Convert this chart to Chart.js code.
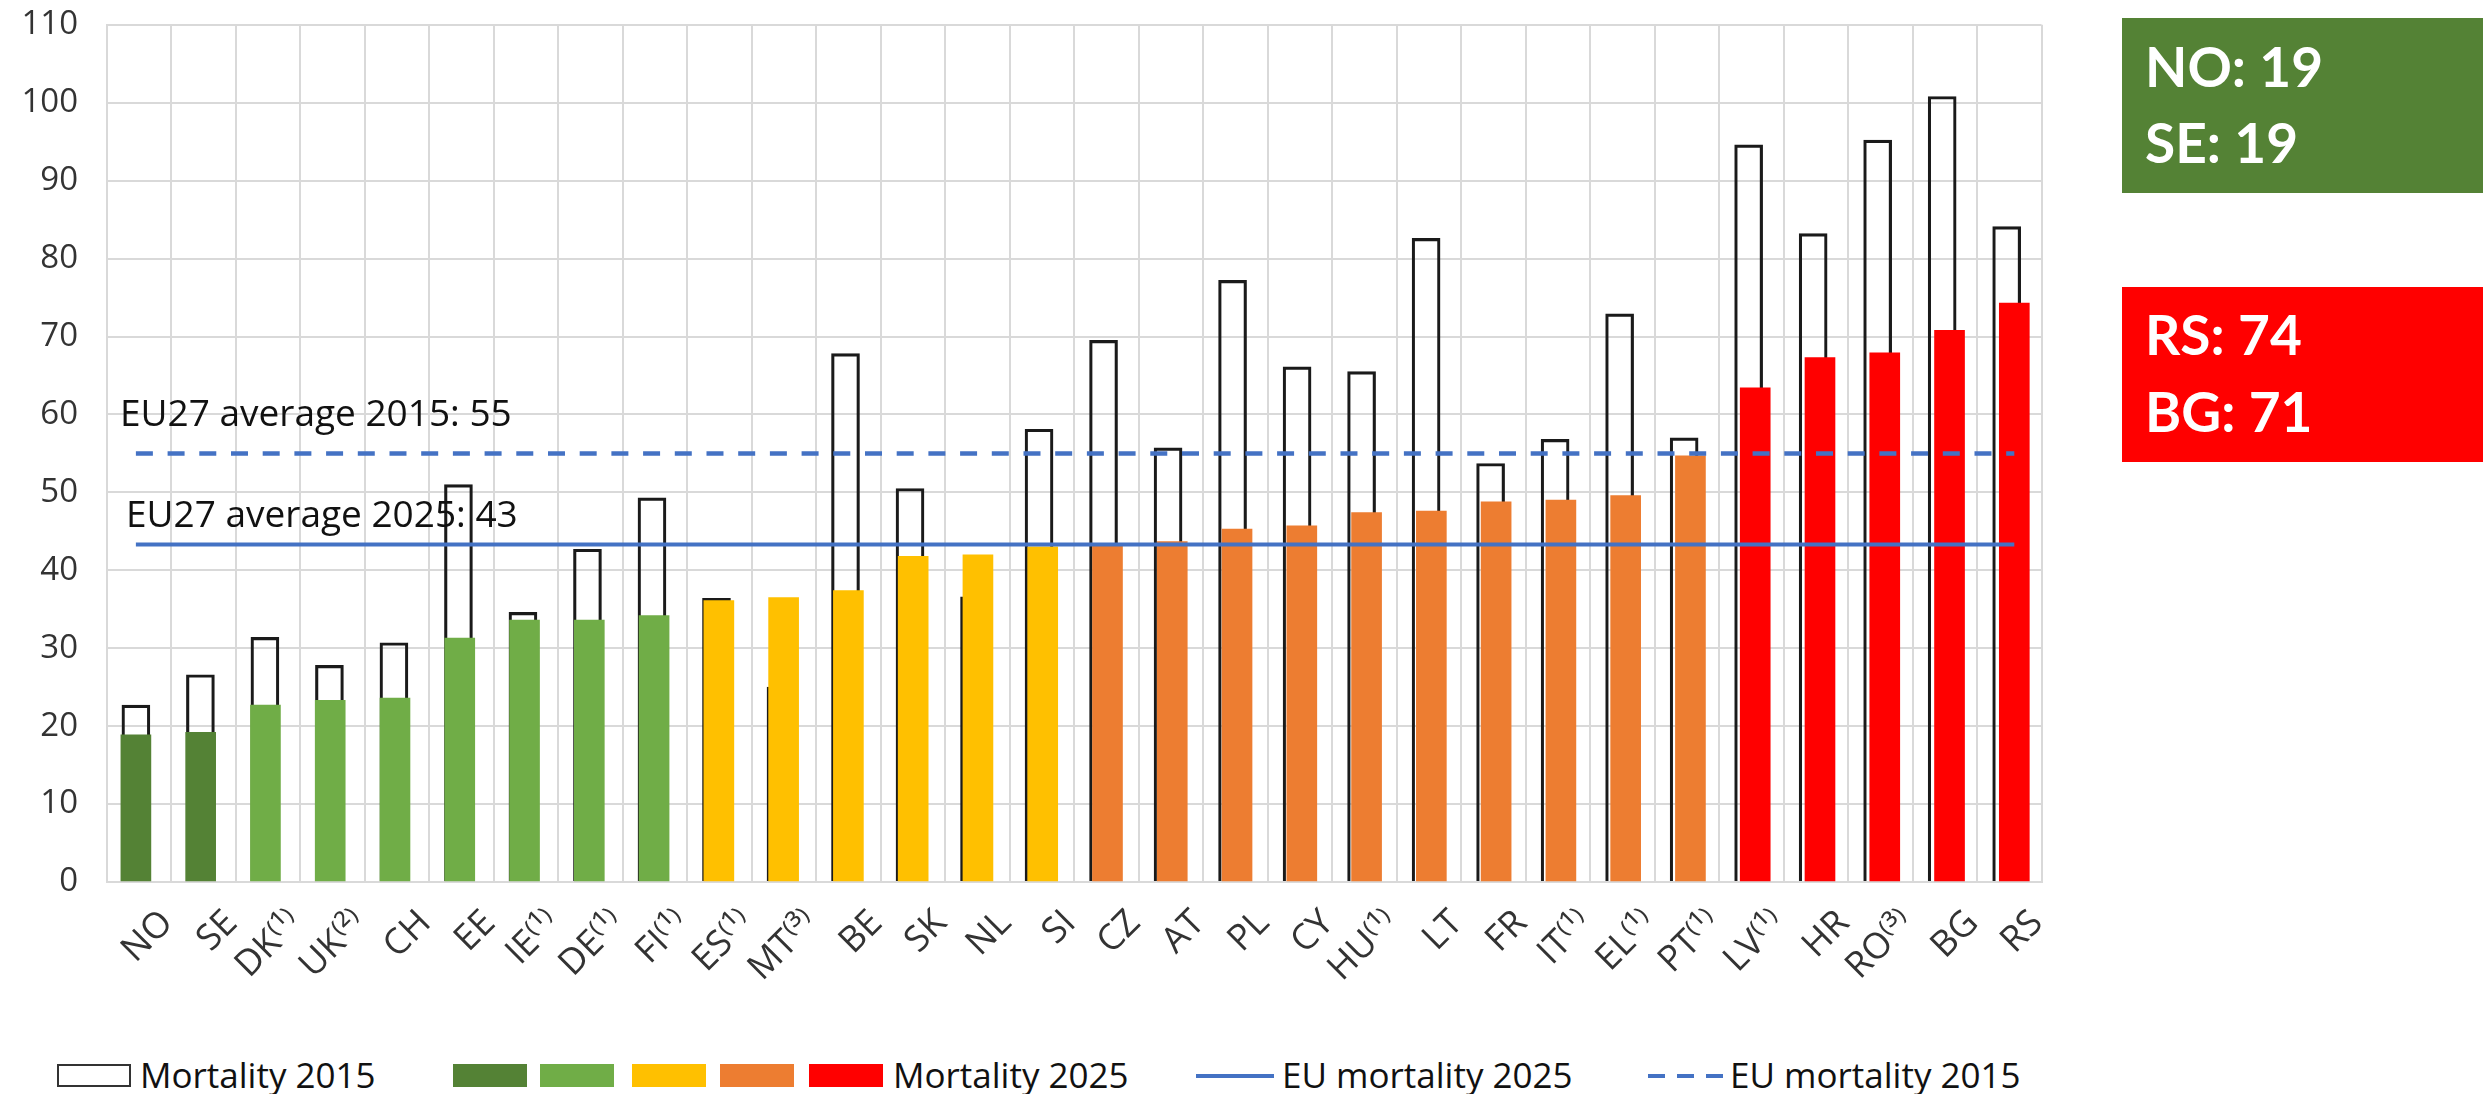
<!DOCTYPE html>
<html>
<head>
<meta charset="utf-8">
<script src="https://cdn.jsdelivr.net/npm/chart.js@4.4.1/dist/chart.umd.min.js"></script>
<style>
  html, body { margin: 0; padding: 0; background: #fff; }
  body { width: 2483px; height: 1094px; position: relative; overflow: hidden; font-family: "Open Sans", sans-serif; }
  #wrap { position: absolute; left: 0; top: 0; width: 2060px; height: 1040px; }
  .panel { position: absolute; left: 2122px; width: 361px; height: 175px; }
  .big { position: absolute; left: 2145px; font: bold 55px Lato, sans-serif; line-height: 55px; color: #fff; white-space: nowrap; }
  .lg-text { position: absolute; top: 1055px; font-size: 35px; line-height: 40px; color: #111; white-space: nowrap; }
  .lg-box { position: absolute; top: 1064px; width: 74px; height: 23px; box-sizing: border-box; }
</style>
</head>
<body>
<div id="wrap"><canvas id="chart"></canvas></div>

<div class="panel" style="top:18px;background:#548235"></div>
<div class="big" style="top:39px">NO: 19</div>
<div class="big" style="top:115px">SE: 19</div>
<div class="panel" style="top:287px;background:#FF0000"></div>
<div class="big" style="top:307px">RS: 74</div>
<div class="big" style="top:384px">BG: 71</div>

<div class="lg-box" style="left:57px;border:2px solid #333;background:#fff"></div>
<div class="lg-text" style="left:140px">Mortality 2015</div>
<div class="lg-box" style="left:453px;background:#548235"></div>
<div class="lg-box" style="left:540px;background:#70AD47"></div>
<div class="lg-box" style="left:632px;background:#FFC000"></div>
<div class="lg-box" style="left:720px;background:#ED7D31"></div>
<div class="lg-box" style="left:809px;background:#FF0000"></div>
<div class="lg-text" style="left:893px">Mortality 2025</div>
<div style="position:absolute;left:1196px;top:1074px;width:78px;height:4px;background:#4472C4"></div>
<div class="lg-text" style="left:1282px">EU mortality 2025</div>
<div style="position:absolute;left:1648px;top:1074px;width:76px;height:4px;background:repeating-linear-gradient(to right,#4472C4 0 17px,transparent 17px 29px)"></div>
<div class="lg-text" style="left:1730px">EU mortality 2015</div>

<script>
const countries = ['NO', 'SE', 'DK⁽¹⁾', 'UK⁽²⁾', 'CH', 'EE', 'IE⁽¹⁾', 'DE⁽¹⁾', 'FI⁽¹⁾', 'ES⁽¹⁾',
  'MT⁽³⁾', 'BE', 'SK', 'NL', 'SI', 'CZ', 'AT', 'PL', 'CY', 'HU⁽¹⁾',
  'LT', 'FR', 'IT⁽¹⁾', 'EL⁽¹⁾', 'PT⁽¹⁾', 'LV⁽¹⁾', 'HR', 'RO⁽³⁾', 'BG', 'RS'];

const mortality2015 = [22.7, 26.6, 31.4, 27.8, 30.7, 51.0, 34.6, 42.7, 49.3, 36.4,
  25.0, 67.8, 50.5, 36.6, 58.1, 69.5, 55.7, 77.2, 66.1, 65.5,
  82.6, 53.7, 56.8, 72.9, 57.0, 94.6, 83.2, 95.2, 100.8, 84.1];

const mortality2025 = [18.9, 19.2, 22.7, 23.3, 23.6, 31.3, 33.6, 33.6, 34.2, 36.1,
  36.5, 37.4, 41.8, 42.0, 43.0, 43.2, 43.7, 45.3, 45.7, 47.4,
  47.6, 48.8, 49.0, 49.6, 54.7, 63.4, 67.3, 67.9, 70.8, 74.3];

// performance band of each country in 2025
const band2025 = ['best', 'best', 'good', 'good', 'good', 'good', 'good', 'good', 'good', 'mid',
  'mid', 'mid', 'mid', 'mid', 'mid', 'high', 'high', 'high', 'high', 'high',
  'high', 'high', 'high', 'high', 'high', 'worst', 'worst', 'worst', 'worst', 'worst'];

const euAvg2015 = 55;
const euAvg2025 = 43.3;
const euLabel2015 = 'EU27 average 2015: 55';
const euLabel2025 = 'EU27 average 2025: 43';

const yMin = 0, yMax = 110, yStep = 10;

const bandColor = { best: '#548235', good: '#70AD47', mid: '#FFC000', high: '#ED7D31', worst: '#FF0000' };
const BLUE = '#4472C4';
const GRID = '#D9D9D9';
const FONT = '"Open Sans", sans-serif';

const lastIdx = countries.length - 1;

const avgLabels = {
  id: 'avgLabels',
  afterDatasetsDraw(chart) {
    const { ctx, chartArea, scales } = chart;
    ctx.save();
    ctx.font = '37px ' + FONT;
    ctx.fillStyle = '#111';
    ctx.textBaseline = 'alphabetic';
    ctx.fillText(euLabel2015, chartArea.left + 13, scales.y.getPixelForValue(euAvg2015) - 27);
    ctx.fillText(euLabel2025, chartArea.left + 19, scales.y.getPixelForValue(euAvg2025) - 18);
    ctx.restore();
  }
};

new Chart(document.getElementById('chart'), {
  type: 'bar',
  data: {
    labels: countries,
    datasets: [
      {
        type: 'line',
        label: 'EU mortality 2015',
        xAxisID: 'xFill',
        data: [{ x: 0, y: euAvg2015 }, { x: lastIdx, y: euAvg2015 }],
        borderColor: BLUE,
        borderWidth: 4.5,
        borderDash: [17, 14.7],
        pointRadius: 0,
        order: -2
      },
      {
        type: 'line',
        label: 'EU mortality 2025',
        xAxisID: 'xFill',
        data: [{ x: 0, y: euAvg2025 }, { x: lastIdx, y: euAvg2025 }],
        borderColor: BLUE,
        borderWidth: 4,
        pointRadius: 0,
        order: -1
      },
      {
        label: 'Mortality 2025',
        xAxisID: 'xFill',
        data: mortality2025.map((v, i) => ({ x: i, y: v })),
        backgroundColor: band2025.map(b => bandColor[b]),
        borderWidth: 0,
        barThickness: 30,
        grouped: false,
        order: 0
      },
      {
        label: 'Mortality 2015',
        xAxisID: 'xOutline',
        data: mortality2015.map((v, i) => ({ x: i, y: v })),
        backgroundColor: 'rgba(0,0,0,0)',
        borderColor: '#1a1a1a',
        borderWidth: 2.5,
        barThickness: 28,
        grouped: false,
        order: 1
      }
    ]
  },
  options: {
    responsive: true,
    maintainAspectRatio: false,
    animation: false,
    layout: { padding: { top: 1, right: 11, left: 0, bottom: 0 } },
    scales: {
      x: {
        type: 'category',
        offset: true,
        grid: { offset: true, color: GRID, lineWidth: 2, drawTicks: false },
        border: { color: GRID, width: 2 },
        ticks: {
          autoSkip: false,
          maxRotation: 45,
          minRotation: 45,
          padding: 20,
          labelOffset: 28,
          color: '#333',
          font: { family: FONT, size: 36 }
        },
        afterFit: s => { s.height = 158; }
      },
      xFill: {
        type: 'linear',
        display: false,
        offset: false,
        min: -0.446,
        max: 29.42
      },
      xOutline: {
        type: 'linear',
        display: false,
        offset: false,
        min: -0.448,
        max: 29.54
      },
      y: {
        min: yMin,
        max: yMax,
        ticks: {
          stepSize: yStep,
          padding: 5,
          color: '#333',
          font: { family: FONT, size: 33 }
        },
        grid: { color: GRID, lineWidth: 2, drawTicks: true, tickLength: 24, tickColor: 'rgba(0,0,0,0)' },
        border: { color: GRID, width: 2 },
        afterFit: s => { s.width = 107; }
      }
    },
    plugins: {
      legend: { display: false },
      tooltip: { enabled: false }
    }
  },
  plugins: [avgLabels]
});
</script>
</body>
</html>
